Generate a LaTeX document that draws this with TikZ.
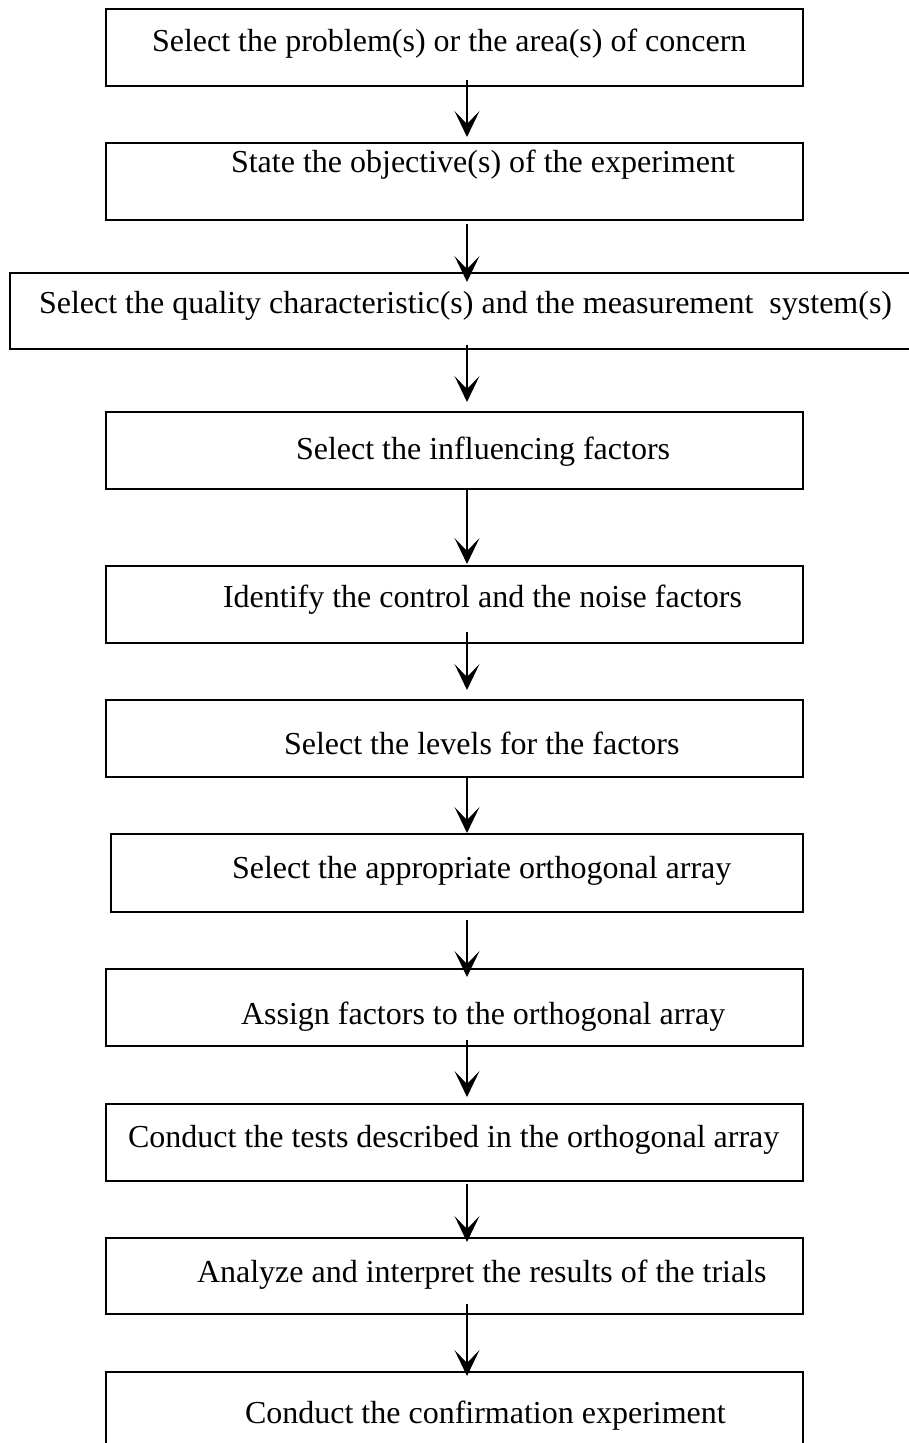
\documentclass[tikz,border=0pt]{standalone}
\usepackage{fontspec}
\setmainfont{Liberation Serif}
\usetikzlibrary{arrows.meta,calc}

\tikzset{
  stepbox/.style={draw=black, line width=1.5pt, inner sep=0pt, outer sep=0pt, fill=none},
  lbl/.style={anchor=base west, inner sep=0pt, outer sep=0pt, font=\fontsize{32}{38}\selectfont},
  flow/.style={draw=black, line width=1.5pt, -{Stealth[length=26pt, width=25pt, inset=13pt]}}
}

\begin{document}
\begin{tikzpicture}[x=1pt, y=-1pt]
  \useasboundingbox (0,0) rectangle (909,1443);
  \fill[white] (0,0) rectangle (909,1443);
  \clip (0,0) rectangle (909,1443);

  % column of the connectors
  \coordinate (ax) at (467,0);

  % process boxes (centre, width, height)
  \node[stepbox, minimum width=697pt, minimum height=77pt] (b1)  at (454.5,47.5)   {};
  \node[stepbox, minimum width=697pt, minimum height=77pt] (b2)  at (454.5,181.5)  {};
  \node[stepbox, minimum width=915pt, minimum height=76pt] (b3)  at (467.5,311)    {};
  \node[stepbox, minimum width=697pt, minimum height=77pt] (b4)  at (454.5,450.5)  {};
  \node[stepbox, minimum width=697pt, minimum height=77pt] (b5)  at (454.5,604.5)  {};
  \node[stepbox, minimum width=697pt, minimum height=77pt] (b6)  at (454.5,738.5)  {};
  \node[stepbox, minimum width=692pt, minimum height=78pt] (b7)  at (457,873)      {};
  \node[stepbox, minimum width=697pt, minimum height=77pt] (b8)  at (454.5,1007.5) {};
  \node[stepbox, minimum width=697pt, minimum height=77pt] (b9)  at (454.5,1142.5) {};
  \node[stepbox, minimum width=697pt, minimum height=76pt] (b10) at (454.5,1276)   {};
  \node[stepbox, minimum width=697pt, minimum height=88pt] (b11) at (454.5,1416)   {};

  % step texts
  \node[lbl] (t1)  at (152,51)   {Select the problem(s) or the area(s) of concern};
  \node[lbl] (t2)  at (231,172)  {State the objective(s) of the experiment};
  \node[lbl] (t3)  at (39,313)   {Select the quality characteristic(s) and the measurement~ system(s)};
  \node[lbl] (t4)  at (296,459)  {Select the influencing factors};
  \node[lbl] (t5)  at (223,607)  {Identify the control and the noise factors};
  \node[lbl] (t6)  at (284,754)  {Select the levels for the factors};
  \node[lbl] (t7)  at (232,878)  {Select the appropriate orthogonal array};
  \node[lbl] (t8)  at (241,1024) {Assign factors to the orthogonal array};
  \node[lbl] (t9)  at (128,1147) {Conduct the tests described in the orthogonal array};
  \node[lbl] (t10) at (197,1282) {Analyze and interpret the results of the trials};
  \node[lbl] (t11) at (245,1423) {Conduct the confirmation experiment};

  % connectors
  \draw[flow] ($(b1.south -| ax)+(0,-6)$)  -- ($(b2.north -| ax)+(0,-6)$);
  \draw[flow] ($(b2.south -| ax)+(0,4)$)   -- ($(b3.north -| ax)+(0,9)$);
  \draw[flow] ($(b3.south -| ax)+(0,-4)$)  -- ($(b4.north -| ax)+(0,-10)$);
  \draw[flow] ($(b4.south -| ax)+(0,0)$)   -- ($(b5.north -| ax)+(0,-2)$);
  \draw[flow] ($(b5.south -| ax)+(0,-11)$) -- ($(b6.north -| ax)+(0,-10)$);
  \draw[flow] ($(b6.south -| ax)+(0,0)$)   -- ($(b7.north -| ax)+(0,-1)$);
  \draw[flow] ($(b7.south -| ax)+(0,8)$)   -- ($(b8.north -| ax)+(0,8)$);
  \draw[flow] ($(b8.south -| ax)+(0,-6)$)  -- ($(b9.north -| ax)+(0,-7)$);
  \draw[flow] ($(b9.south -| ax)+(0,3)$)   -- ($(b10.north -| ax)+(0,4)$);
  \draw[flow] ($(b10.south -| ax)+(0,-10)$) -- ($(b11.north -| ax)+(0,4)$);
\end{tikzpicture}
\end{document}
